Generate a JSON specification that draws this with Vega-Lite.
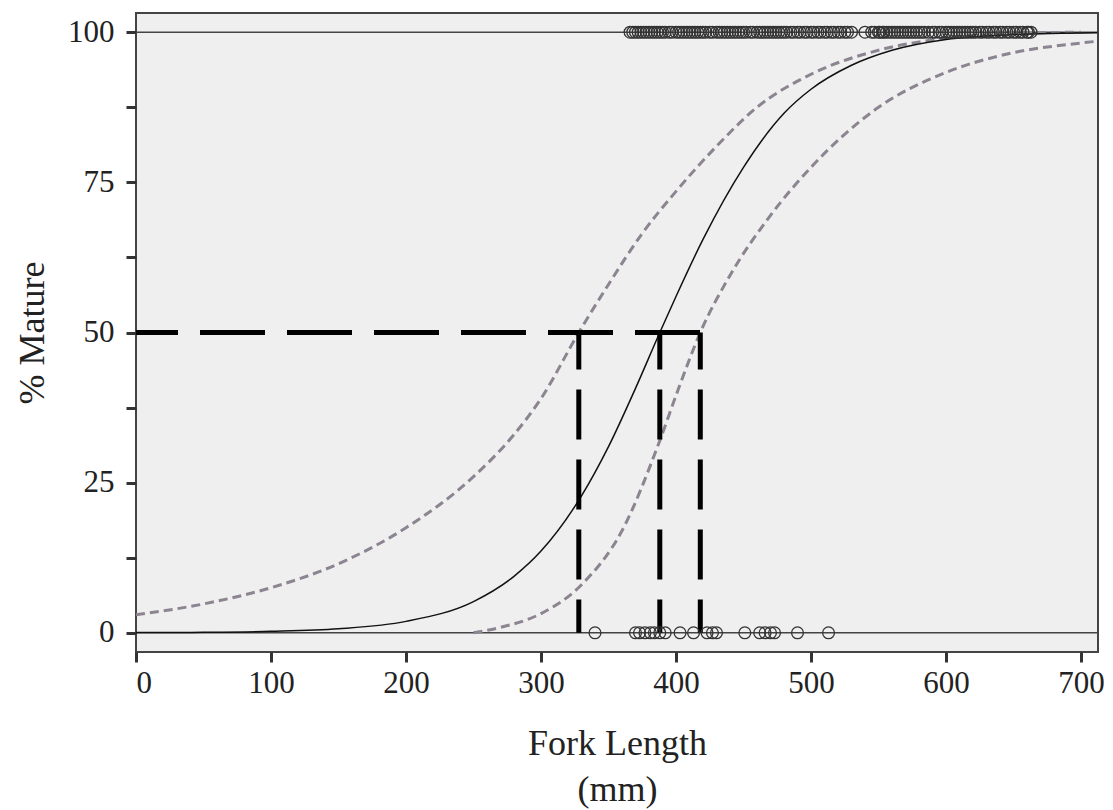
{
  "$schema": "https://vega.github.io/schema/vega-lite/v6.json",
  "width": 962,
  "height": 639,
  "autosize": {"type": "none"},
  "padding": {"left": 136, "top": 13, "right": 15, "bottom": 158},
  "background": "white",
  "config": {
    "font": "Liberation Serif",
    "view": {"fill": "#efefef", "stroke": "#444444", "strokeWidth": 2},
    "axis": {
      "domain": false,
      "grid": false,
      "tickColor": "#333333",
      "tickWidth": 3,
      "tickSize": 10,
      "labelFont": "Liberation Serif",
      "labelFontSize": 31,
      "labelColor": "#222222",
      "titleFont": "Liberation Serif",
      "titleFontSize": 36,
      "titleFontWeight": "normal",
      "titleColor": "#222222"
    }
  },
  "datasets": {
    "solid": [
      {"fl": 0, "pct": 0.03}, {"fl": 50, "pct": 0.08}, {"fl": 100, "pct": 0.24}, {"fl": 150, "pct": 0.67},
      {"fl": 200, "pct": 1.9}, {"fl": 250, "pct": 5.2}, {"fl": 280, "pct": 9.4}, {"fl": 300, "pct": 13.6},
      {"fl": 330, "pct": 22.8}, {"fl": 350, "pct": 31}, {"fl": 370, "pct": 40.7}, {"fl": 388, "pct": 50},
      {"fl": 400, "pct": 56}, {"fl": 420, "pct": 65.5}, {"fl": 450, "pct": 77.5}, {"fl": 480, "pct": 86.5},
      {"fl": 500, "pct": 90.5}, {"fl": 530, "pct": 94.5}, {"fl": 560, "pct": 97}, {"fl": 600, "pct": 98.8},
      {"fl": 650, "pct": 99.6}, {"fl": 712, "pct": 99.9}
    ],
    "lower": [
      {"fl": 0, "pct": 3}, {"fl": 50, "pct": 4.8}, {"fl": 100, "pct": 7.5}, {"fl": 150, "pct": 11.5},
      {"fl": 200, "pct": 17.5}, {"fl": 250, "pct": 26}, {"fl": 280, "pct": 33}, {"fl": 300, "pct": 39},
      {"fl": 328, "pct": 50}, {"fl": 350, "pct": 58}, {"fl": 375, "pct": 66.5}, {"fl": 400, "pct": 73.5},
      {"fl": 430, "pct": 81}, {"fl": 460, "pct": 87.5}, {"fl": 500, "pct": 93}, {"fl": 550, "pct": 97},
      {"fl": 600, "pct": 99}, {"fl": 650, "pct": 99.8}, {"fl": 700, "pct": 100}
    ],
    "upper": [
      {"fl": 250, "pct": 0}, {"fl": 270, "pct": 0.9}, {"fl": 300, "pct": 3.2}, {"fl": 330, "pct": 8},
      {"fl": 360, "pct": 17}, {"fl": 388, "pct": 32}, {"fl": 400, "pct": 39.5}, {"fl": 418, "pct": 50},
      {"fl": 440, "pct": 59.5}, {"fl": 470, "pct": 69.5}, {"fl": 500, "pct": 77.5}, {"fl": 550, "pct": 87.5},
      {"fl": 600, "pct": 93.3}, {"fl": 650, "pct": 96.6}, {"fl": 700, "pct": 98.2}, {"fl": 712, "pct": 98.5}
    ],
    "hseg": [
      {"x1": 0, "x2": 418, "y1": 50, "y2": 50}
    ],
    "vsegs": [
      {"x1": 328, "x2": 328, "y1": 50, "y2": 0},
      {"x1": 388, "x2": 388, "y1": 50, "y2": 0},
      {"x1": 418, "x2": 418, "y1": 50, "y2": 0}
    ],
    "refs": [{"y": 0}, {"y": 100}],
    "pts": [
      {"fl": 340, "pct": 0}, {"fl": 370, "pct": 0}, {"fl": 373, "pct": 0}, {"fl": 377, "pct": 0},
      {"fl": 381, "pct": 0}, {"fl": 384, "pct": 0}, {"fl": 388, "pct": 0}, {"fl": 392, "pct": 0},
      {"fl": 403, "pct": 0}, {"fl": 413, "pct": 0}, {"fl": 423, "pct": 0}, {"fl": 427, "pct": 0},
      {"fl": 430, "pct": 0}, {"fl": 451, "pct": 0}, {"fl": 462, "pct": 0}, {"fl": 466, "pct": 0},
      {"fl": 470, "pct": 0}, {"fl": 473, "pct": 0}, {"fl": 490, "pct": 0}, {"fl": 513, "pct": 0},
      {"fl": 366, "pct": 100}, {"fl": 368, "pct": 100}, {"fl": 370, "pct": 100}, {"fl": 372, "pct": 100},
      {"fl": 374, "pct": 100}, {"fl": 376, "pct": 100}, {"fl": 378, "pct": 100}, {"fl": 380, "pct": 100},
      {"fl": 382, "pct": 100}, {"fl": 384, "pct": 100}, {"fl": 386, "pct": 100}, {"fl": 388, "pct": 100},
      {"fl": 390, "pct": 100}, {"fl": 392, "pct": 100}, {"fl": 395, "pct": 100}, {"fl": 397, "pct": 100},
      {"fl": 400, "pct": 100}, {"fl": 402, "pct": 100}, {"fl": 404, "pct": 100}, {"fl": 406, "pct": 100},
      {"fl": 408, "pct": 100}, {"fl": 410, "pct": 100}, {"fl": 412, "pct": 100}, {"fl": 414, "pct": 100},
      {"fl": 416, "pct": 100}, {"fl": 418, "pct": 100}, {"fl": 420, "pct": 100}, {"fl": 422, "pct": 100},
      {"fl": 425, "pct": 100}, {"fl": 427, "pct": 100}, {"fl": 430, "pct": 100}, {"fl": 432, "pct": 100},
      {"fl": 434, "pct": 100}, {"fl": 436, "pct": 100}, {"fl": 438, "pct": 100}, {"fl": 440, "pct": 100},
      {"fl": 442, "pct": 100}, {"fl": 444, "pct": 100}, {"fl": 446, "pct": 100}, {"fl": 448, "pct": 100},
      {"fl": 450, "pct": 100}, {"fl": 452, "pct": 100}, {"fl": 455, "pct": 100}, {"fl": 457, "pct": 100},
      {"fl": 460, "pct": 100}, {"fl": 462, "pct": 100}, {"fl": 464, "pct": 100}, {"fl": 466, "pct": 100},
      {"fl": 468, "pct": 100}, {"fl": 470, "pct": 100}, {"fl": 472, "pct": 100}, {"fl": 474, "pct": 100},
      {"fl": 476, "pct": 100}, {"fl": 478, "pct": 100}, {"fl": 480, "pct": 100}, {"fl": 482, "pct": 100},
      {"fl": 485, "pct": 100}, {"fl": 487, "pct": 100}, {"fl": 490, "pct": 100}, {"fl": 492, "pct": 100},
      {"fl": 495, "pct": 100}, {"fl": 497, "pct": 100}, {"fl": 500, "pct": 100}, {"fl": 502, "pct": 100},
      {"fl": 505, "pct": 100}, {"fl": 507, "pct": 100}, {"fl": 510, "pct": 100}, {"fl": 512, "pct": 100},
      {"fl": 515, "pct": 100}, {"fl": 517, "pct": 100}, {"fl": 520, "pct": 100}, {"fl": 522, "pct": 100},
      {"fl": 525, "pct": 100}, {"fl": 527, "pct": 100}, {"fl": 530, "pct": 100}, {"fl": 540, "pct": 100},
      {"fl": 545, "pct": 100}, {"fl": 547, "pct": 100}, {"fl": 550, "pct": 100}, {"fl": 551, "pct": 100},
      {"fl": 553, "pct": 100}, {"fl": 554, "pct": 100}, {"fl": 556, "pct": 100}, {"fl": 558, "pct": 100},
      {"fl": 560, "pct": 100}, {"fl": 562, "pct": 100}, {"fl": 564, "pct": 100}, {"fl": 566, "pct": 100},
      {"fl": 568, "pct": 100}, {"fl": 570, "pct": 100}, {"fl": 572, "pct": 100}, {"fl": 574, "pct": 100},
      {"fl": 576, "pct": 100}, {"fl": 578, "pct": 100}, {"fl": 580, "pct": 100}, {"fl": 582, "pct": 100},
      {"fl": 584, "pct": 100}, {"fl": 587, "pct": 100}, {"fl": 590, "pct": 100}, {"fl": 592, "pct": 100},
      {"fl": 595, "pct": 100}, {"fl": 597, "pct": 100}, {"fl": 600, "pct": 100}, {"fl": 602, "pct": 100},
      {"fl": 604, "pct": 100}, {"fl": 606, "pct": 100}, {"fl": 608, "pct": 100}, {"fl": 610, "pct": 100},
      {"fl": 612, "pct": 100}, {"fl": 614, "pct": 100}, {"fl": 616, "pct": 100}, {"fl": 618, "pct": 100},
      {"fl": 620, "pct": 100}, {"fl": 622, "pct": 100}, {"fl": 625, "pct": 100}, {"fl": 627, "pct": 100},
      {"fl": 630, "pct": 100}, {"fl": 632, "pct": 100}, {"fl": 635, "pct": 100}, {"fl": 637, "pct": 100},
      {"fl": 640, "pct": 100}, {"fl": 642, "pct": 100}, {"fl": 645, "pct": 100}, {"fl": 647, "pct": 100},
      {"fl": 650, "pct": 100}, {"fl": 652, "pct": 100}, {"fl": 655, "pct": 100}, {"fl": 657, "pct": 100},
      {"fl": 660, "pct": 100}, {"fl": 661, "pct": 100}, {"fl": 663, "pct": 100}
    ]
  },
  "layer": [
    {
      "data": {"name": "refs"},
      "mark": {"type": "rule", "color": "#444444", "strokeWidth": 1.5},
      "encoding": {
        "y": {
          "field": "y", "type": "quantitative",
          "scale": {"domain": [-3.2, 103.2], "nice": false, "zero": false},
          "axis": {
            "title": "% Mature",
            "values": [0, 12.5, 25, 37.5, 50, 62.5, 75, 87.5, 100],
            "labelExpr": "datum.value % 25 == 0 ? datum.label : ''",
            "labelPadding": 12,
            "titlePadding": 16
          }
        }
      }
    },
    {
      "data": {"name": "upper"},
      "mark": {"type": "line", "color": "#8c8490", "strokeWidth": 3, "strokeDash": [9, 5], "interpolate": "monotone"},
      "encoding": {
        "x": {
          "field": "fl", "type": "quantitative",
          "scale": {"domain": [0, 712.6], "nice": false, "zero": false},
          "axis": {
            "title": ["Fork Length", "(mm)"],
            "values": [0, 100, 200, 300, 400, 500, 600, 700],
            "labelPadding": 6,
            "titlePadding": 28,
            "titleLineHeight": 46
          }
        },
        "y": {"field": "pct", "type": "quantitative"}
      }
    },
    {
      "data": {"name": "lower"},
      "mark": {"type": "line", "color": "#8c8490", "strokeWidth": 3, "strokeDash": [9, 5], "interpolate": "monotone"},
      "encoding": {
        "x": {"field": "fl", "type": "quantitative"},
        "y": {"field": "pct", "type": "quantitative"}
      }
    },
    {
      "data": {"name": "solid"},
      "mark": {"type": "line", "color": "#111111", "strokeWidth": 1.5, "interpolate": "monotone"},
      "encoding": {
        "x": {"field": "fl", "type": "quantitative"},
        "y": {"field": "pct", "type": "quantitative"}
      }
    },
    {
      "data": {"name": "hseg"},
      "mark": {"type": "rule", "color": "#000000", "strokeWidth": 5, "strokeDash": [65, 22], "strokeDashOffset": 23},
      "encoding": {
        "x": {"field": "x1", "type": "quantitative"},
        "x2": {"field": "x2"},
        "y": {"field": "y1", "type": "quantitative"},
        "y2": {"field": "y2"}
      }
    },
    {
      "data": {"name": "vsegs"},
      "mark": {"type": "rule", "color": "#000000", "strokeWidth": 5, "strokeDash": [50, 20], "strokeDashOffset": 13},
      "encoding": {
        "x": {"field": "x1", "type": "quantitative"},
        "x2": {"field": "x2"},
        "y": {"field": "y1", "type": "quantitative"},
        "y2": {"field": "y2"}
      }
    },
    {
      "data": {"name": "pts"},
      "mark": {"type": "point", "shape": "circle", "filled": false, "stroke": "#333333", "strokeWidth": 1.3, "size": 140, "opacity": 1},
      "encoding": {
        "x": {"field": "fl", "type": "quantitative"},
        "y": {"field": "pct", "type": "quantitative"}
      }
    }
  ]
}
